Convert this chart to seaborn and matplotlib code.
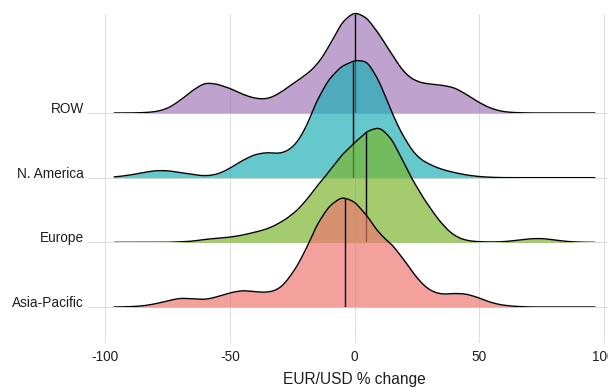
import numpy as np
import seaborn as sns
import matplotlib.pyplot as plt

# EUR/USD % change, 5-point bin centres
bin_centres = [-95, -90, -85, -80, -75, -70, -65, -60, -55, -50,
               -45, -40, -35, -30, -25, -20, -15, -10, -5, 0,
               5, 10, 15, 20, 25, 30, 35, 40, 45, 50,
               55, 60, 65, 70, 75, 80, 85, 90, 95]

# Relative frequency of each bin, per region
asia_pacific = [0, 0.3, 1, 3, 6, 9, 8, 7, 10, 14,
                16.5, 15, 14, 17, 32, 53, 82, 100, 109, 104,
                90, 71, 62, 46, 28, 16, 12, 13.5, 13, 9,
                4, 1.5, 0.5, 0, 0, 0, 0, 0, 0]
europe = [0, 0, 0, 0, 0, 0.5, 1, 3, 4, 5,
          7, 10, 13, 19, 27, 39, 56, 70, 87, 98,
          110, 115, 103, 77, 54, 35, 18, 6, 1.5, 0.5,
          0.3, 0.5, 2, 3.5, 4, 2.5, 0.8, 0.2, 0]
n_america = [1, 2.5, 5, 7, 7, 5, 3, 1.5, 3, 9,
             17, 23, 25, 23, 28, 45, 77, 98, 110, 115,
             116, 95, 63, 38, 20, 13, 8, 5, 2.5, 1,
             0.3, 0, 0, 0, 0, 0, 0, 0, 0]
row = [0, 0, 0.3, 1, 4, 12, 22, 30, 28, 24,
       18, 14, 13, 19, 28, 36, 46, 65, 89, 99,
       93, 76, 57, 38, 30, 28, 27, 25, 18, 10,
       4, 1, 0.3, 0, 0, 0, 0, 0, 0]

regions = ["Asia-Pacific", "Europe", "N. America", "ROW"]
frequencies = [asia_pacific, europe, n_america, row]
medians = [-4.0, 4.8, -0.8, 0.0]
colors = ["#EF7570", "#79B52A", "#1AAEB5", "#A176B8"]

sns.set_theme(style="white")
plt.rcParams["font.family"] = ["Liberation Sans", "DejaVu Sans"]

W, H = 608, 387
fig = plt.figure(figsize=(W / 100, H / 100), dpi=100)

# panel geometry (pixels)
left_px, right_px = 88, 621
top_px, bottom_px = 14, 343
first_base_px = 307.0
step_px = 64.67
x_lo, x_hi = -107.0, 107.0
ridge_h_px = 140
peak_px = 117.0
text_col = "#1e1e1e"


def fig_rect(x0, y_top, x1, y_bot):
    return [x0 / W, 1 - y_bot / H, (x1 - x0) / W, (y_bot - y_top) / H]


# background panel: grid, category labels, x axis
ax = fig.add_axes(fig_rect(left_px, top_px, right_px, bottom_px))
ax.set_facecolor("white")
ax.set_xlim(x_lo, x_hi)
ax.set_ylim(-(bottom_px - first_base_px) / step_px,
            3 + (first_base_px - 3 * step_px - top_px) / step_px)
ax.set_xticks([-100, -50, 0, 50, 100])
ax.set_xticklabels(["-100", "-50", "0", "50", "100"])
ax.set_yticks(range(len(regions)))
ax.set_yticklabels(regions)
for lbl in ax.get_yticklabels():
    lbl.set_verticalalignment("baseline")
ax.grid(True, color="#DEDEDE", linewidth=0.8)
ax.tick_params(length=0, labelsize=9.8, labelcolor=text_col)
ax.tick_params(axis="x", pad=5.0)
ax.tick_params(axis="y", pad=3)
for s in ax.spines.values():
    s.set_visible(False)
ax.set_xlabel("EUR/USD % change", fontsize=11.2, color=text_col)
ax.xaxis.set_label_coords(0.5, -0.088)

# ridges, drawn back to front
x = np.asarray(bin_centres, float)
ridge_axes = []
for i in reversed(range(len(regions))):
    base = first_base_px - i * step_px
    rax = fig.add_axes(fig_rect(left_px, base - ridge_h_px, right_px, base))
    rax.patch.set_alpha(0)
    rax.set_axis_off()
    w = np.asarray(frequencies[i], float)
    sd = np.sqrt(np.cov(x, aweights=w))
    kw = dict(x=x, weights=w, bw_method=3.0 / sd, clip=(-96.5, 96.5),
              cut=3, gridsize=600, ax=rax)
    sns.kdeplot(fill=True, color=colors[i], alpha=0.68, linewidth=0, **kw)
    sns.kdeplot(color="black", linewidth=1.0, **kw)
    xd, yd = rax.lines[-1].get_data()
    ym = np.interp(medians[i], xd, yd)
    rax.vlines(medians[i], 0, ym, color="black", linewidth=1.0)
    ridge_axes.append((rax, yd.max()))

gmax = max(m for _, m in ridge_axes)
ymax = gmax * ridge_h_px / peak_px
for rax, _ in ridge_axes:
    rax.set_xlim(x_lo, x_hi)
    rax.set_ylim(0, ymax)

fig.savefig("out.png", dpi=100)
